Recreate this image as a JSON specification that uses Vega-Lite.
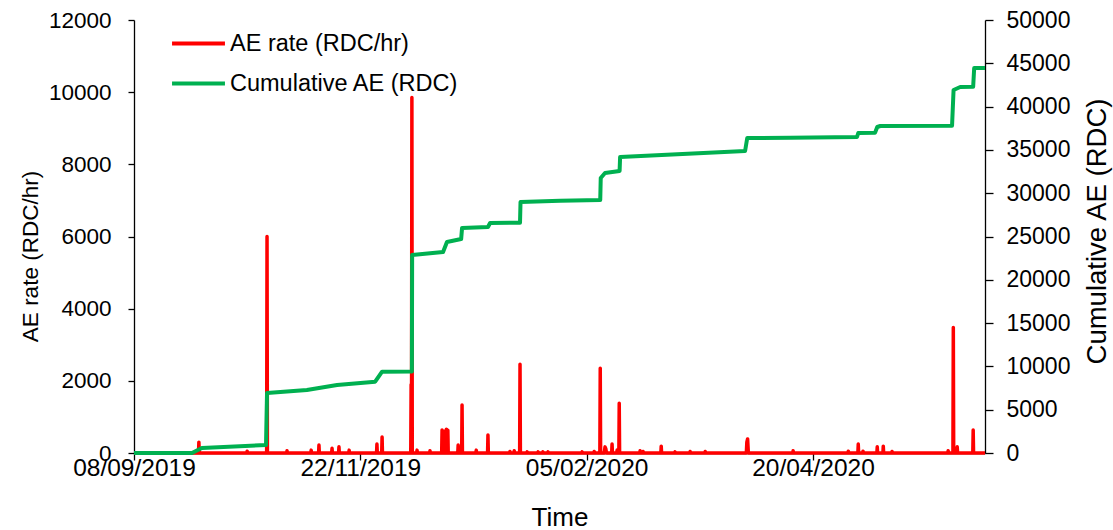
{
  "$schema": "https://vega.github.io/schema/vega-lite/v6.json",
  "width": 851,
  "height": 433,
  "autosize": {"type": "none"},
  "padding": {"left": 134, "top": 20, "right": 128, "bottom": 77},
  "background": "white",
  "config": {
    "view": {"stroke": null},
    "font": "Liberation Sans",
    "axis": {
      "grid": false,
      "domainColor": "black",
      "tickColor": "black",
      "labelColor": "black",
      "titleColor": "black",
      "labelFont": "Liberation Sans",
      "titleFont": "Liberation Sans",
      "titleFontWeight": "normal",
      "labelFontSize": 22.5,
      "titleFontSize": 22.5,
      "domainWidth": 1.3,
      "tickWidth": 1.3,
      "tickSize": 6,
      "labelFlush": false,
      "labelOverlap": false
    }
  },
  "datasets": {
    "rate": [
      {"t": "2019-09-08 00:00", "v": 0},
      {"t": "2019-09-29 09:00", "v": 0}, {"t": "2019-09-29 12:00", "v": 300}, {"t": "2019-09-29 15:00", "v": 0},
      {"t": "2019-10-15 09:00", "v": 0}, {"t": "2019-10-15 12:00", "v": 50}, {"t": "2019-10-15 15:00", "v": 0},
      {"t": "2019-10-21 23:00", "v": 0}, {"t": "2019-10-22 02:00", "v": 6000}, {"t": "2019-10-22 05:00", "v": 0},
      {"t": "2019-10-28 14:00", "v": 0}, {"t": "2019-10-28 17:00", "v": 60}, {"t": "2019-10-28 20:00", "v": 0},
      {"t": "2019-11-05 14:00", "v": 0}, {"t": "2019-11-05 17:00", "v": 80}, {"t": "2019-11-05 20:00", "v": 0},
      {"t": "2019-11-08 04:00", "v": 0}, {"t": "2019-11-08 07:00", "v": 220}, {"t": "2019-11-08 10:00", "v": 0},
      {"t": "2019-11-12 12:00", "v": 0}, {"t": "2019-11-12 15:00", "v": 130}, {"t": "2019-11-12 18:00", "v": 0},
      {"t": "2019-11-14 19:00", "v": 0}, {"t": "2019-11-14 22:00", "v": 170}, {"t": "2019-11-15 01:00", "v": 0},
      {"t": "2019-11-18 04:00", "v": 0}, {"t": "2019-11-18 07:00", "v": 80}, {"t": "2019-11-18 10:00", "v": 0},
      {"t": "2019-11-27 09:00", "v": 0}, {"t": "2019-11-27 12:00", "v": 250}, {"t": "2019-11-27 15:00", "v": 0},
      {"t": "2019-11-29 02:00", "v": 0}, {"t": "2019-11-29 05:00", "v": 440}, {"t": "2019-11-29 08:00", "v": 0},
      {"t": "2019-12-08 17:00", "v": 0}, {"t": "2019-12-08 20:00", "v": 1900}, {"t": "2019-12-08 23:00", "v": 0},
      {"t": "2019-12-09 02:00", "v": 9850}, {"t": "2019-12-09 05:00", "v": 0},
      {"t": "2019-12-10 16:00", "v": 0}, {"t": "2019-12-10 19:00", "v": 80}, {"t": "2019-12-10 22:00", "v": 0},
      {"t": "2019-12-14 23:00", "v": 0}, {"t": "2019-12-15 02:00", "v": 60}, {"t": "2019-12-15 05:00", "v": 0},
      {"t": "2019-12-18 23:00", "v": 0}, {"t": "2019-12-19 02:00", "v": 640}, {"t": "2019-12-19 05:00", "v": 0},
      {"t": "2019-12-19 15:00", "v": 0}, {"t": "2019-12-19 18:00", "v": 600}, {"t": "2019-12-19 21:00", "v": 0},
      {"t": "2019-12-20 09:00", "v": 0}, {"t": "2019-12-20 12:00", "v": 660}, {"t": "2019-12-20 15:00", "v": 0},
      {"t": "2019-12-20 21:00", "v": 0}, {"t": "2019-12-21 00:00", "v": 630}, {"t": "2019-12-21 03:00", "v": 0},
      {"t": "2019-12-24 07:00", "v": 0}, {"t": "2019-12-24 10:00", "v": 220}, {"t": "2019-12-24 13:00", "v": 0},
      {"t": "2019-12-25 14:00", "v": 0}, {"t": "2019-12-25 17:00", "v": 1330}, {"t": "2019-12-25 20:00", "v": 0},
      {"t": "2019-12-30 07:00", "v": 0}, {"t": "2019-12-30 10:00", "v": 80}, {"t": "2019-12-30 13:00", "v": 0},
      {"t": "2020-01-03 04:00", "v": 0}, {"t": "2020-01-03 07:00", "v": 500}, {"t": "2020-01-03 10:00", "v": 0},
      {"t": "2020-01-10 11:00", "v": 0}, {"t": "2020-01-10 14:00", "v": 40}, {"t": "2020-01-10 17:00", "v": 0},
      {"t": "2020-01-11 21:00", "v": 0}, {"t": "2020-01-12 00:00", "v": 60}, {"t": "2020-01-12 03:00", "v": 0},
      {"t": "2020-01-13 19:00", "v": 0}, {"t": "2020-01-13 22:00", "v": 2460}, {"t": "2020-01-14 01:00", "v": 0},
      {"t": "2020-01-16 04:00", "v": 0}, {"t": "2020-01-16 07:00", "v": 30}, {"t": "2020-01-16 10:00", "v": 0},
      {"t": "2020-01-19 19:00", "v": 0}, {"t": "2020-01-19 22:00", "v": 30}, {"t": "2020-01-20 01:00", "v": 0},
      {"t": "2020-01-21 09:00", "v": 0}, {"t": "2020-01-21 12:00", "v": 30}, {"t": "2020-01-21 15:00", "v": 0},
      {"t": "2020-01-23 02:00", "v": 0}, {"t": "2020-01-23 05:00", "v": 30}, {"t": "2020-01-23 08:00", "v": 0},
      {"t": "2020-02-03 09:00", "v": 0}, {"t": "2020-02-03 12:00", "v": 30}, {"t": "2020-02-03 15:00", "v": 0},
      {"t": "2020-02-07 09:00", "v": 0}, {"t": "2020-02-07 12:00", "v": 40}, {"t": "2020-02-07 15:00", "v": 0},
      {"t": "2020-02-09 09:00", "v": 0}, {"t": "2020-02-09 12:00", "v": 2350}, {"t": "2020-02-09 15:00", "v": 0},
      {"t": "2020-02-10 20:00", "v": 0}, {"t": "2020-02-11 02:00", "v": 170}, {"t": "2020-02-11 08:00", "v": 120}, {"t": "2020-02-11 14:00", "v": 0},
      {"t": "2020-02-13 07:00", "v": 0}, {"t": "2020-02-13 10:00", "v": 250}, {"t": "2020-02-13 13:00", "v": 0},
      {"t": "2020-02-14 23:00", "v": 0}, {"t": "2020-02-15 02:00", "v": 80}, {"t": "2020-02-15 05:00", "v": 0},
      {"t": "2020-02-15 16:00", "v": 0}, {"t": "2020-02-15 19:00", "v": 1380}, {"t": "2020-02-15 22:00", "v": 0},
      {"t": "2020-02-22 14:00", "v": 0}, {"t": "2020-02-22 17:00", "v": 60}, {"t": "2020-02-22 20:00", "v": 0},
      {"t": "2020-02-23 14:00", "v": 0}, {"t": "2020-02-23 17:00", "v": 40}, {"t": "2020-02-23 20:00", "v": 0},
      {"t": "2020-02-29 14:00", "v": 0}, {"t": "2020-02-29 17:00", "v": 190}, {"t": "2020-02-29 20:00", "v": 0},
      {"t": "2020-03-05 04:00", "v": 0}, {"t": "2020-03-05 07:00", "v": 30}, {"t": "2020-03-05 10:00", "v": 0},
      {"t": "2020-03-10 04:00", "v": 0}, {"t": "2020-03-10 07:00", "v": 40}, {"t": "2020-03-10 10:00", "v": 0},
      {"t": "2020-03-15 04:00", "v": 0}, {"t": "2020-03-15 07:00", "v": 40}, {"t": "2020-03-15 10:00", "v": 0},
      {"t": "2020-03-28 22:00", "v": 0}, {"t": "2020-03-29 02:00", "v": 300}, {"t": "2020-03-29 08:00", "v": 390}, {"t": "2020-03-29 14:00", "v": 0},
      {"t": "2020-04-13 07:00", "v": 0}, {"t": "2020-04-13 10:00", "v": 60}, {"t": "2020-04-13 13:00", "v": 0},
      {"t": "2020-05-01 14:00", "v": 0}, {"t": "2020-05-01 17:00", "v": 50}, {"t": "2020-05-01 20:00", "v": 0},
      {"t": "2020-05-04 21:00", "v": 0}, {"t": "2020-05-05 00:00", "v": 250}, {"t": "2020-05-05 03:00", "v": 0},
      {"t": "2020-05-06 11:00", "v": 0}, {"t": "2020-05-06 14:00", "v": 50}, {"t": "2020-05-06 17:00", "v": 0},
      {"t": "2020-05-11 04:00", "v": 0}, {"t": "2020-05-11 07:00", "v": 170}, {"t": "2020-05-11 10:00", "v": 0},
      {"t": "2020-05-13 04:00", "v": 0}, {"t": "2020-05-13 07:00", "v": 190}, {"t": "2020-05-13 10:00", "v": 0},
      {"t": "2020-05-16 02:00", "v": 0}, {"t": "2020-05-16 05:00", "v": 40}, {"t": "2020-05-16 08:00", "v": 0},
      {"t": "2020-06-03 16:00", "v": 0}, {"t": "2020-06-03 19:00", "v": 60}, {"t": "2020-06-03 22:00", "v": 0},
      {"t": "2020-06-05 09:00", "v": 0}, {"t": "2020-06-05 12:00", "v": 3480}, {"t": "2020-06-05 15:00", "v": 0},
      {"t": "2020-06-06 16:00", "v": 0}, {"t": "2020-06-06 19:00", "v": 170}, {"t": "2020-06-06 22:00", "v": 0},
      {"t": "2020-06-11 23:00", "v": 0}, {"t": "2020-06-12 02:00", "v": 640}, {"t": "2020-06-12 05:00", "v": 0},
      {"t": "2020-06-16 00:00", "v": 0}
    ],
    "cum": [
      {"t": "2019-09-08 00:00", "v": 0},
      {"t": "2019-09-27 05:00", "v": 0},
      {"t": "2019-09-29 12:00", "v": 400},
      {"t": "2019-09-30 12:00", "v": 577},
      {"t": "2019-10-21 18:00", "v": 920},
      {"t": "2019-10-22 02:00", "v": 6930},
      {"t": "2019-11-04 07:00", "v": 7275},
      {"t": "2019-11-14 07:00", "v": 7852},
      {"t": "2019-11-26 22:00", "v": 8237},
      {"t": "2019-11-29 05:00", "v": 9390},
      {"t": "2019-12-09 02:00", "v": 9400},
      {"t": "2019-12-09 04:00", "v": 22864},
      {"t": "2019-12-19 10:00", "v": 23210},
      {"t": "2019-12-20 17:00", "v": 24365},
      {"t": "2019-12-25 10:00", "v": 24711},
      {"t": "2019-12-25 17:00", "v": 25981},
      {"t": "2020-01-03 07:00", "v": 26097},
      {"t": "2020-01-04 00:00", "v": 26559},
      {"t": "2020-01-13 22:00", "v": 26600},
      {"t": "2020-01-14 02:00", "v": 28984},
      {"t": "2020-01-27 05:00", "v": 29134},
      {"t": "2020-02-09 12:00", "v": 29215},
      {"t": "2020-02-09 16:00", "v": 31755},
      {"t": "2020-02-11 02:00", "v": 32333},
      {"t": "2020-02-15 22:00", "v": 32564},
      {"t": "2020-02-16 02:00", "v": 34180},
      {"t": "2020-03-28 12:00", "v": 34873},
      {"t": "2020-03-29 05:00", "v": 36374},
      {"t": "2020-04-12 10:00", "v": 36400},
      {"t": "2020-05-04 14:00", "v": 36490},
      {"t": "2020-05-05 00:00", "v": 36952},
      {"t": "2020-05-10 14:00", "v": 36990},
      {"t": "2020-05-11 07:00", "v": 37644},
      {"t": "2020-05-12 07:00", "v": 37760},
      {"t": "2020-06-05 02:00", "v": 37800},
      {"t": "2020-06-05 14:00", "v": 41917},
      {"t": "2020-06-07 19:00", "v": 42263},
      {"t": "2020-06-12 02:00", "v": 42300},
      {"t": "2020-06-12 10:00", "v": 44457},
      {"t": "2020-06-16 00:00", "v": 44470}
    ]
  },
  "layer": [
    {
      "data": {"name": "rate", "format": {"parse": {"t": "utc:'%Y-%m-%d %H:%M'"}}},
      "mark": {"type": "line", "strokeWidth": 3.5, "strokeJoin": "round", "strokeCap": "butt"},
      "encoding": {
        "x": {
          "field": "t",
          "type": "temporal",
          "scale": {
            "type": "utc",
            "domain": [
              {"year": 2019, "month": 9, "date": 8, "utc": true},
              {"year": 2020, "month": 6, "date": 16, "utc": true}
            ]
          },
          "axis": {
            "title": "Time",
            "values": [
              {"year": 2019, "month": 9, "date": 8, "utc": true},
              {"year": 2019, "month": 11, "date": 22, "utc": true},
              {"year": 2020, "month": 2, "date": 5, "utc": true},
              {"year": 2020, "month": 4, "date": 20, "utc": true}
            ],
            "labelExpr": "utcFormat(datum.value, '%d/%m/%Y')",
            "labelFontSize": 24.5,
            "tickSize": 7,
            "labelBaseline": "middle",
            "labelPadding": 8,
            "titleY": 64,
            "titleBaseline": "middle",
            "titleFontSize": 26
          }
        },
        "y": {
          "field": "v",
          "type": "quantitative",
          "scale": {"domain": [0, 12000], "nice": false},
          "axis": {
            "title": "AE rate (RDC/hr)",
            "values": [0, 2000, 4000, 6000, 8000, 10000, 12000],
            "format": "d",
            "labelPadding": 17,
            "titleAngle": -90,
            "titleX": -104,
            "titleY": 236,
            "titleAlign": "center",
            "titleBaseline": "middle"
          }
        },
        "color": {
          "datum": "AE rate (RDC/hr)",
          "type": "nominal",
          "scale": {
            "domain": ["AE rate (RDC/hr)", "Cumulative AE (RDC)"],
            "range": ["#FF0000", "#00B050"]
          },
          "legend": {
            "orient": "none",
            "legendX": 36,
            "legendY": -5,
            "title": null,
            "symbolType": "stroke",
            "symbolSize": 2800,
            "symbolStrokeWidth": 4,
            "labelFontSize": 23.5,
            "labelFont": "Liberation Sans",
            "labelColor": "black",
            "labelLimit": 0,
            "labelOffset": 3,
            "rowPadding": 0,
            "padding": 0
          }
        }
      }
    },
    {
      "data": {"name": "cum", "format": {"parse": {"t": "utc:'%Y-%m-%d %H:%M'"}}},
      "mark": {"type": "line", "strokeWidth": 4, "strokeJoin": "round"},
      "encoding": {
        "x": {"field": "t", "type": "temporal"},
        "y": {
          "field": "v",
          "type": "quantitative",
          "scale": {"domain": [0, 50000], "nice": false},
          "axis": {
            "orient": "right",
            "title": "Cumulative AE (RDC)",
            "values": [0, 5000, 10000, 15000, 20000, 25000, 30000, 35000, 40000, 45000, 50000],
            "format": "d",
            "labelFontSize": 23,
            "tickSize": 8,
            "labelPadding": 13,
            "titleAngle": -90,
            "titleX": 112,
            "titleY": 211,
            "titleAlign": "center",
            "titleBaseline": "middle",
            "titleFontSize": 27.5
          }
        },
        "color": {"datum": "Cumulative AE (RDC)", "type": "nominal"}
      }
    }
  ],
  "resolve": {"scale": {"y": "independent"}}
}
